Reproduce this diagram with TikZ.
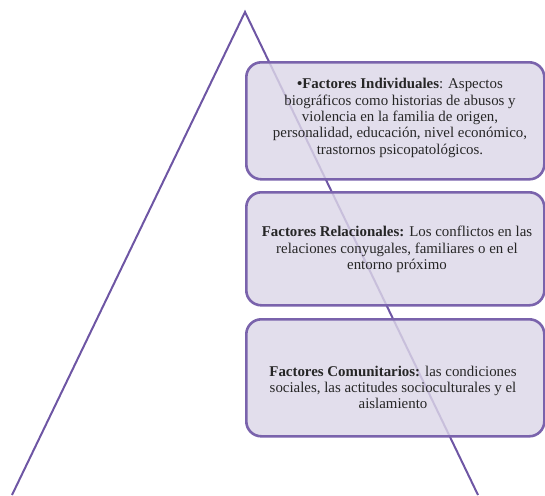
\documentclass[tikz,border=0pt]{standalone}
\usepackage{fontspec}
\setmainfont{Liberation Serif}
\definecolor{pline}{HTML}{6E56A4}
\definecolor{pborder}{HTML}{7A63AC}
\definecolor{pfill}{HTML}{DCD7E8}
\begin{document}
\begin{tikzpicture}[x=1pt,y=-1pt,
  layerbox/.style={draw=pborder, line width=2.6pt, fill=pfill, fill opacity=0.82,
    draw opacity=1, rounded corners=15pt, minimum width=298pt, inner sep=0pt,
    anchor=north west},
  boxtext/.style={align=center, font=\fontsize{14.9}{16.3}\selectfont, text=black!85, inner sep=0pt},
  sideline/.style={draw=pline, line width=2pt}]
\useasboundingbox (0,0) rectangle (545,495);
\coordinate (apex) at (245,12);
\coordinate (bl) at (12,495);
\coordinate (br) at (478,495);
\draw[sideline] (bl) -- (apex) -- (br);
\node[layerbox, minimum height=117pt] (b1) at (245,61) {};
\node[layerbox, minimum height=113pt] (b2) at (245,191) {};
\node[layerbox, minimum height=117pt] (b3) at (245,318) {};
\node[boxtext] (t1) at (400,118) {\textbf{•Factores Individuales}: Aspectos\\biográficos como historias de abusos y\\violencia en la familia de origen,\\personalidad, educación, nivel económico,\\trastornos psicopatológicos.};
\node[boxtext] (t2) at (397,249.5) {\textbf{Factores Relacionales:} Los conflictos en las\\relaciones conyugales, familiares o en el\\entorno próximo};
\node[boxtext] (t3) at (393,387.5) {\textbf{Factores Comunitarios:} las condiciones\\sociales, las actitudes socioculturales y el\\aislamiento};
\end{tikzpicture}
\end{document}
